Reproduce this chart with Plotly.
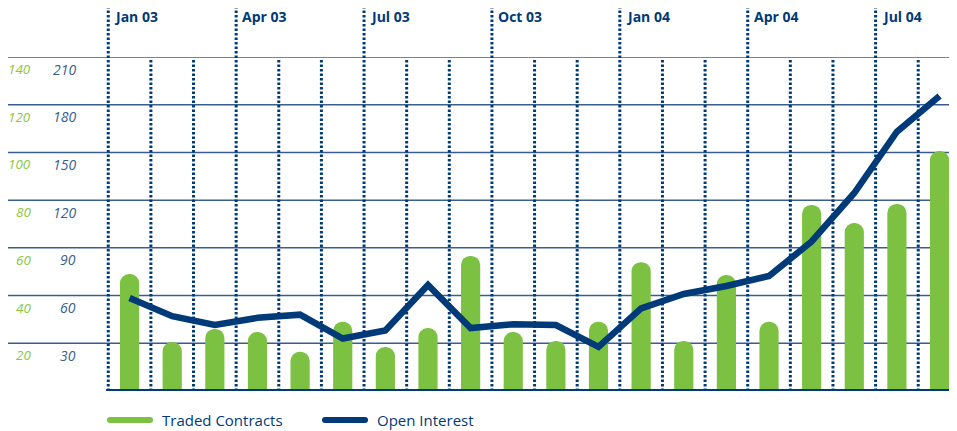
import plotly.graph_objects as go

months = ["Jan 03", "Feb 03", "Mar 03", "Apr 03", "May 03", "Jun 03", "Jul 03", "Aug 03",
          "Sep 03", "Oct 03", "Nov 03", "Dec 03", "Jan 04", "Feb 04", "Mar 04", "Apr 04",
          "May 04", "Jun 04", "Jul 04", "Aug 04"]
traded_contracts = [49, 20.5, 26, 24.7, 16.4, 29, 18.4, 26.4, 56.6, 24.7, 21, 29,
                    54, 21, 48.6, 29, 78, 70.4, 78.4, 100.6]
open_interest = [58.5, 47, 41.5, 46, 48, 33, 38, 66.7, 39.6, 42, 41.5, 27.7,
                 52, 61, 66, 72.3, 94, 124.5, 163, 185.5]
left_ticks = [20, 40, 60, 80, 100, 120, 140]
right_ticks = [30, 60, 90, 120, 150, 180, 210]
quarter_labels = ["Jan 03", "Apr 03", "Jul 03", "Oct 03", "Jan 04", "Apr 04", "Jul 04"]

GREEN = "#7cc142"
NAVY = "#003a78"
GRID = "#3a5d8f"
LABEL_GREEN = "#8cc63f"

OFF = 8  # page body margin
W, H = 957 - OFF, 431 - OFF
# plot area in screen px: left 104, top 57, bottom 391, right 957
SL, ST, SB, SR = 104, 57, 391, 957
L, T = SL - OFF, ST - OFF
R, B = 0, H - (SB - OFF)
pw = W - L - R
ph = H - T - B
xs = list(range(len(months)))

def pxx(px):
    return (px - SL) / pw

def pxy(py):
    return (SB - py) / ph

fig = go.Figure()
fig.add_trace(go.Bar(x=xs, y=traded_contracts, name="Traded Contracts",
                     marker=dict(color=GREEN, cornerradius="50%", line=dict(width=0)),
                     width=0.45, yaxis="y"))
fig.add_trace(go.Scatter(x=xs, y=open_interest, name="Open Interest", mode="lines",
                         line=dict(color=NAVY, width=6.5), yaxis="y2"))

shapes = []
# horizontal gridlines
for v in left_ticks:
    shapes.append(dict(type="line", xref="paper", yref="y", x0=pxx(8), x1=1.01,
                       y0=v, y1=v, line=dict(color=GRID, width=1.5), layer="below"))
# vertical dotted lines
for i in xs:
    tall = (i % 3 == 0)
    shapes.append(dict(type="line", xref="x", yref="paper", x0=i - 0.5, x1=i - 0.5,
                       y0=0, y1=pxy(8) if tall else pxy(60),
                       line=dict(color=NAVY, width=3, dash="2.5px,2px"), layer="below"))
# baseline
shapes.append(dict(type="line", xref="x", yref="y", x0=-0.55, x1=30, y0=0, y1=0,
                   line=dict(color=NAVY, width=4)))

annotations = []
for v1, v2 in zip(left_ticks, right_ticks):
    annotations.append(dict(xref="paper", yref="y", x=pxx(32.5), y=v1, text=str(v1),
                            showarrow=False, xanchor="right", yanchor="middle", yshift=-12,
                            font=dict(family="Open Sans", size=13.5, color=LABEL_GREEN, style="italic")))
    annotations.append(dict(xref="paper", yref="y", x=pxx(78), y=v1, text=str(v2),
                            showarrow=False, xanchor="right", yanchor="middle", yshift=-12,
                            font=dict(family="Open Sans", size=14, color=GRID, style="italic")))
for i, m in enumerate(months):
    if m in quarter_labels:
        annotations.append(dict(xref="x", yref="paper", x=i - 0.5, y=pxy(17), text="<b>" + m + "</b>",
                                showarrow=False, xanchor="left", yanchor="middle", xshift=4,
                                font=dict(family="Open Sans", size=14, color=NAVY)))

# custom legend
leg_y = pxy(420)
for (x0, x1, col, tx, txt) in [(107, 153, GREEN, 160, "Traded Contracts"),
                               (322, 368, NAVY, 375, "Open Interest")]:
    shapes.append(dict(type="line", xref="paper", yref="paper", x0=pxx(x0 + 3), x1=pxx(x1 - 3),
                       y0=leg_y, y1=leg_y, line=dict(color=col, width=6)))
    for xe in (x0 + 3, x1 - 3):
        shapes.append(dict(type="circle", xref="paper", yref="paper", xsizemode="pixel", ysizemode="pixel",
                           xanchor=pxx(xe), yanchor=leg_y, x0=-3, x1=3, y0=-3, y1=3,
                           fillcolor=col, line=dict(width=0)))
    annotations.append(dict(xref="paper", yref="paper", x=pxx(tx), y=leg_y, text=txt,
                            showarrow=False, xanchor="left", yanchor="middle",
                            font=dict(family="Open Sans", size=15, color=NAVY)))

fig.update_layout(
    width=W, height=H, margin=dict(l=L, r=R, t=T, b=B, pad=0),
    paper_bgcolor="white", plot_bgcolor="white", showlegend=False,
    xaxis=dict(range=[-0.6, -0.6 + pw / 42.63], showgrid=False, zeroline=False,
               showticklabels=False, ticks=""),
    yaxis=dict(range=[0, 140], showgrid=False, zeroline=False, showticklabels=False),
    yaxis2=dict(range=[0, 210], overlaying="y", showgrid=False, zeroline=False,
                showticklabels=False),
    shapes=shapes, annotations=annotations,
)
fig.write_html("out.html")
